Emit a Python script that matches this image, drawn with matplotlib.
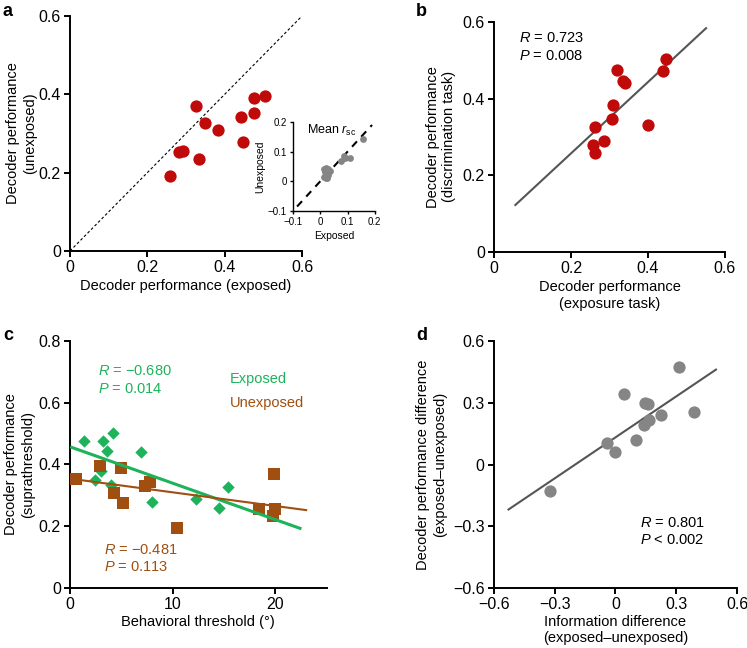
import matplotlib
matplotlib.use("Agg")
import matplotlib.pyplot as plt
import numpy as np

plt.rcParams["font.family"] = ["Liberation Sans", "DejaVu Sans"]
plt.rcParams["mathtext.fontset"] = "custom"
plt.rcParams["mathtext.rm"] = "Liberation Sans"
plt.rcParams["mathtext.it"] = "Liberation Sans:italic"
plt.rcParams["font.size"] = 10.5

RED = "#c00a0a"
GREEN = "#1db35a"
BROWN = "#a04f10"
GRAY = "#858585"
LINE_GRAY = "#555555"
MINUS = "\u2212"

# ---- panel a: exposed vs unexposed decoder performance
a_exposed = [0.259, 0.282, 0.292, 0.334, 0.326, 0.349, 0.383, 0.442, 0.447, 0.475, 0.475, 0.504]
a_unexposed = [0.191, 0.253, 0.255, 0.235, 0.370, 0.327, 0.309, 0.342, 0.278, 0.391, 0.352, 0.396]

# inset: mean r_sc
rsc_exposed = [0.015, 0.020, 0.025, 0.030, 0.018, 0.022, 0.028, 0.015, 0.020, 0.025, 0.030, 0.035,
               0.075, 0.088, 0.092, 0.108, 0.155]
rsc_unexposed = [0.040, 0.045, 0.035, 0.040, 0.030, 0.025, 0.020, 0.015, 0.010, 0.012, 0.030, 0.035,
                 0.068, 0.085, 0.078, 0.078, 0.142]

# ---- panel b: exposure task vs discrimination task
b_exposure = [0.447, 0.440, 0.320, 0.336, 0.341, 0.310, 0.306, 0.400, 0.263, 0.285, 0.256, 0.263]
b_discrim = [0.503, 0.472, 0.475, 0.447, 0.442, 0.383, 0.347, 0.331, 0.326, 0.288, 0.279, 0.257]
b_fit_x = [0.0555, 0.551]
b_fit_y = [0.122, 0.584]

# ---- panel c: behavioral threshold vs decoder performance
c_exp_thr = [1.36, 3.25, 4.22, 3.57, 6.88, 2.43, 2.99, 3.99, 7.95, 12.24, 15.38, 14.54]
c_exp_perf = [0.475, 0.474, 0.502, 0.444, 0.441, 0.349, 0.380, 0.333, 0.279, 0.288, 0.326, 0.258]
c_unexp_thr = [0.58, 2.92, 4.93, 4.32, 5.19, 7.30, 7.79, 10.45, 19.86, 18.43, 19.96, 19.74]
c_unexp_perf = [0.352, 0.396, 0.388, 0.307, 0.275, 0.329, 0.344, 0.193, 0.369, 0.255, 0.256, 0.234]
c_exp_fit_x = [0.16, 22.4]
c_exp_fit_y = [0.455, 0.193]
c_unexp_fit_x = [0.16, 23.0]
c_unexp_fit_y = [0.353, 0.252]

# ---- panel d: information difference vs decoder performance difference
d_info = [0.311, 0.042, 0.144, 0.160, 0.226, 0.385, 0.164, 0.139, 0.100, -0.041, 0.000, -0.323]
d_perf = [0.471, 0.341, 0.297, 0.292, 0.240, 0.254, 0.216, 0.192, 0.119, 0.106, 0.063, -0.129]
d_fit_x = [-0.527, 0.495]
d_fit_y = [-0.218, 0.460]


def style_axes(ax, lw=1.4, ticklen=4, labelsize=11.5):
    ax.spines["top"].set_visible(False)
    ax.spines["right"].set_visible(False)
    ax.spines["left"].set_linewidth(lw)
    ax.spines["bottom"].set_linewidth(lw)
    ax.tick_params(direction="out", length=ticklen, width=lw, labelsize=labelsize, pad=2.5)


def fmt(vals):
    return [f"{v:g}".replace("-", MINUS) for v in vals]


fig = plt.figure(figsize=(7.47, 6.48), dpi=100)

# ============================================================
# a
# ============================================================
ax_a = fig.add_axes([0.0937, 0.6127, 0.3106, 0.3626])
ax_a.plot([0, 0.6], [0, 0.6], linestyle=(0, (2.5, 2)), color="black", linewidth=0.8)
ax_a.scatter(a_exposed, a_unexposed, s=78, color=RED, zorder=3, linewidths=0)
ax_a.set_xlim(0, 0.6)
ax_a.set_ylim(0, 0.6)
ticks_a = [0, 0.2, 0.4, 0.6]
ax_a.set_xticks(ticks_a, fmt(ticks_a))
ax_a.set_yticks(ticks_a, fmt(ticks_a))
ax_a.set_xlabel("Decoder performance (exposed)", labelpad=3)
ax_a.set_ylabel("Decoder performance\n(unexposed)", linespacing=1.3)
ax_a.yaxis.set_label_coords(-0.142, 0.5)
style_axes(ax_a)

ax_in = fig.add_axes([0.3922, 0.6744, 0.1095, 0.1373])
ax_in.plot([-0.085, 0.19], [-0.085, 0.19], linestyle=(0, (3.5, 3)), color="black", linewidth=1.5)
ax_in.scatter(rsc_exposed, rsc_unexposed, s=24, color=GRAY, zorder=3, linewidths=0)
ax_in.set_xlim(-0.1, 0.2)
ax_in.set_ylim(-0.1, 0.2)
ticks_in = [-0.1, 0, 0.1, 0.2]
ax_in.set_xticks(ticks_in, fmt(ticks_in))
ax_in.set_yticks(ticks_in, fmt(ticks_in))
ax_in.set_xlabel("Exposed", fontsize=7.5, labelpad=3)
ax_in.set_ylabel("Unexposed", fontsize=7.5, labelpad=2)
ax_in.text(-0.048, 0.17, r"Mean $\mathit{r}_{\mathrm{sc}}$", fontsize=9, va="center")
style_axes(ax_in, lw=1.0, ticklen=2.5, labelsize=7)
ax_in.tick_params(pad=2)
ax_in.patch.set_alpha(0)

# ============================================================
# b
# ============================================================
ax_b = fig.add_axes([0.6613, 0.6116, 0.3092, 0.3544])
ax_b.plot(b_fit_x, b_fit_y, color=LINE_GRAY, linewidth=1.5)
ax_b.scatter(b_exposure, b_discrim, s=78, color=RED, zorder=3, linewidths=0)
ax_b.set_xlim(0, 0.6)
ax_b.set_ylim(0, 0.6)
ax_b.set_xticks(ticks_a, fmt(ticks_a))
ax_b.set_yticks(ticks_a, fmt(ticks_a))
ax_b.set_xlabel("Decoder performance\n(exposure task)", labelpad=3, linespacing=1.3)
ax_b.set_ylabel("Decoder performance\n(discrimination task)", linespacing=1.2)
ax_b.yaxis.set_label_coords(-0.165, 0.5)
ax_b.text(0.066, 0.559, "$\\mathit{R}$ = 0.723", va="center")
ax_b.text(0.066, 0.510, "$\\mathit{P}$ = 0.008", va="center")
style_axes(ax_b)

# ============================================================
# c
# ============================================================
ax_c = fig.add_axes([0.0937, 0.0926, 0.3436, 0.3816])
ax_c.scatter(c_exp_thr, c_exp_perf, s=40, marker="D", color=GREEN, zorder=3, linewidths=0)
ax_c.scatter(c_unexp_thr, c_unexp_perf, s=75, marker="s", color=BROWN, zorder=4, linewidths=0)
ax_c.plot(c_exp_fit_x, c_exp_fit_y, color=GREEN, linewidth=2.2, zorder=5)
ax_c.plot(c_unexp_fit_x, c_unexp_fit_y, color=BROWN, linewidth=1.5, zorder=5)
ax_c.set_xlim(0, 25)
ax_c.set_ylim(0, 0.8)
ax_c.set_xticks([0, 10, 20])
ticks_c = [0, 0.2, 0.4, 0.6, 0.8]
ax_c.set_yticks(ticks_c, fmt(ticks_c))
ax_c.set_xlabel("Behavioral threshold (\u00b0)", labelpad=2)
ax_c.set_ylabel("Decoder performance\n(suprathreshold)", linespacing=1.3)
ax_c.yaxis.set_label_coords(-0.136, 0.5)
ax_c.text(2.76, 0.703, "$\\mathit{R}$ = " + MINUS + "0.680", color=GREEN, va="center")
ax_c.text(2.76, 0.644, "$\\mathit{P}$ = 0.014", color=GREEN, va="center")
ax_c.text(15.6, 0.676, "Exposed", color=GREEN, va="center")
ax_c.text(15.6, 0.599, "Unexposed", color=BROWN, va="center")
ax_c.text(3.34, 0.124, "$\\mathit{R}$ = " + MINUS + "0.481", color=BROWN, va="center")
ax_c.text(3.34, 0.067, "$\\mathit{P}$ = 0.113", color=BROWN, va="center")
style_axes(ax_c)

# ============================================================
# d
# ============================================================
ax_d = fig.add_axes([0.6609, 0.0921, 0.3261, 0.3821])
ax_d.plot(d_fit_x, d_fit_y, color=LINE_GRAY, linewidth=1.5)
ax_d.scatter(d_info, d_perf, s=78, color=GRAY, zorder=3, linewidths=0)
ax_d.set_xlim(-0.6, 0.6)
ax_d.set_ylim(-0.6, 0.6)
ticks_d = [-0.6, -0.3, 0, 0.3, 0.6]
ax_d.set_xticks(ticks_d, fmt(ticks_d))
ax_d.set_yticks(ticks_d, fmt(ticks_d))
ax_d.set_xlabel("Information difference\n(exposed\u2013unexposed)", labelpad=2, linespacing=1.2)
ax_d.set_ylabel("Decoder performance difference\n(exposed\u2013unexposed)", linespacing=1.2)
ax_d.yaxis.set_label_coords(-0.193, 0.5)
ax_d.text(0.119, -0.282, "$\\mathit{R}$ = 0.801", va="center")
ax_d.text(0.119, -0.368, "$\\mathit{P}$ < 0.002", va="center")
style_axes(ax_d)

# panel letters
for lab, x, y in [("a", 0.004, 0.982), ("b", 0.557, 0.982), ("c", 0.004, 0.482), ("d", 0.557, 0.482)]:
    fig.text(x, y, lab, fontsize=13, fontweight="bold", va="center")

fig.savefig("out.png", dpi=100)
